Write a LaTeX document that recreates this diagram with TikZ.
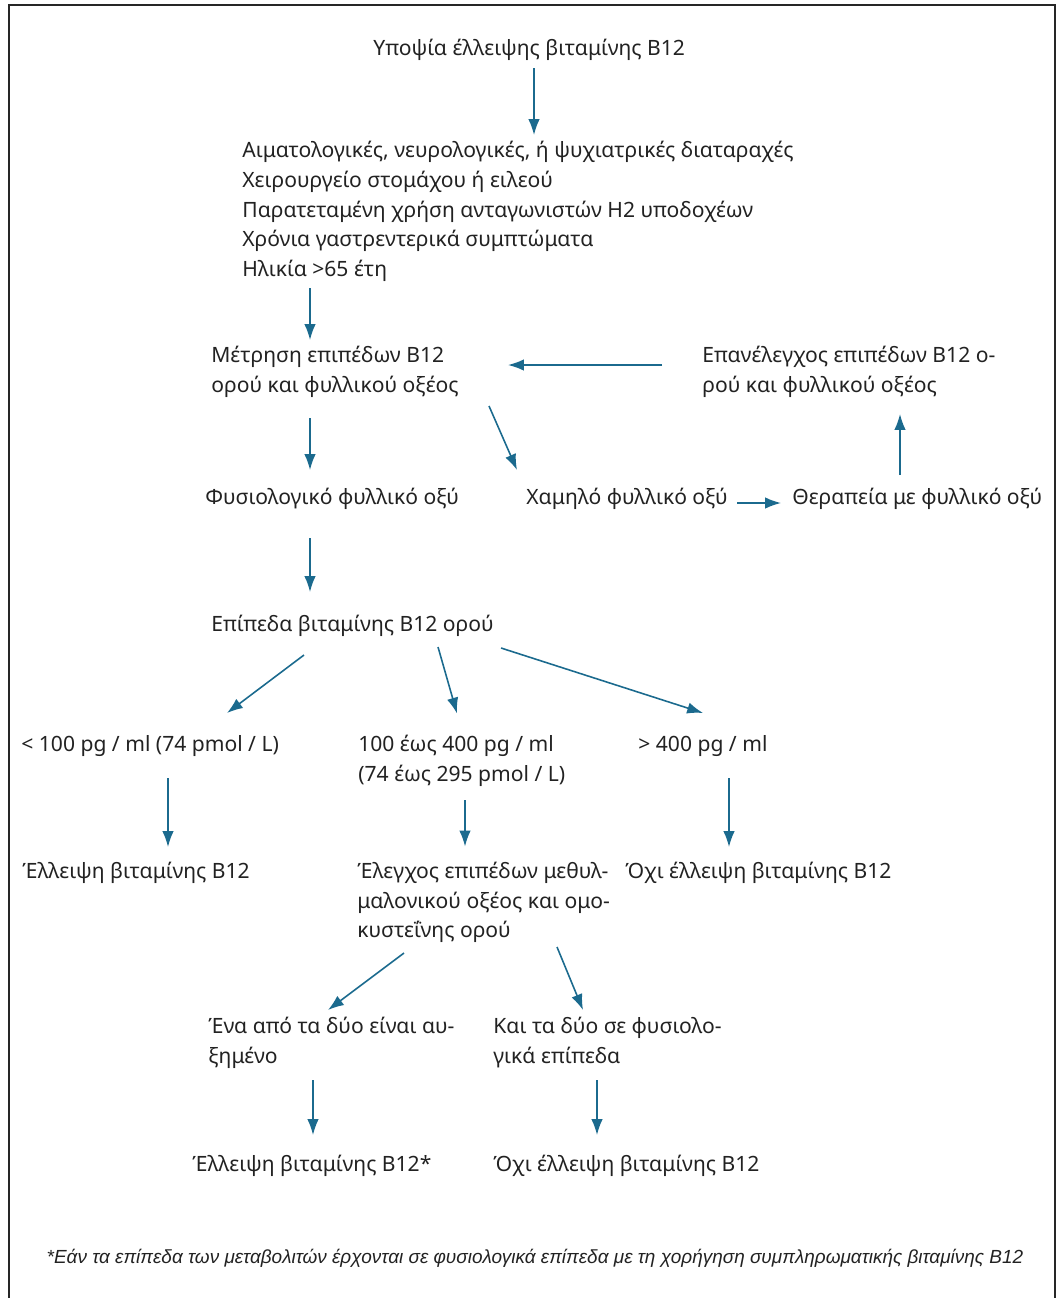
\documentclass[tikz,border=0pt]{standalone}
\usepackage{fontspec}
\usepackage{tikz}
\usepackage{xcolor}
\usetikzlibrary{calc,arrows.meta}
\setmainfont{Noto Sans}
\newfontfamily\notefont{Liberation Sans}
\definecolor{arrowblue}{HTML}{1B6A8E}
\definecolor{textgray}{HTML}{222222}
\tikzstyle{step box} = [anchor=west, inner sep=0pt, align=left, text=textgray,
  font=\fontsize{12}{16.9}\selectfont]
\tikzstyle{arr} = [draw=arrowblue, line width=0.9pt, -{Latex[length=9pt,width=6.5pt]}]

\begin{document}
\begin{tikzpicture}[x=0.02cm, y=-0.02cm]
\useasboundingbox (0,0) rectangle (1061,1298);
\draw[line width=1.4pt, draw=black!85] (9,1298) -- (9,5) -- (1055,5) -- (1055,1298);

			\tikzset{every node/.style={step box}}
\node (title) at (373,50) {Υποψία έλλειψης βιταμίνης B12};
\node (sym) at (242,211.5) {Αιματολογικές, νευρολογικές, ή ψυχιατρικές διαταραχές\\
  Χειρουργείο στομάχου ή ειλεού\\
  Παρατεταμένη χρήση ανταγωνιστών H2 υποδοχέων\\
  Χρόνια γαστρεντερικά συμπτώματα\\
  Ηλικία >65 έτη};
\node (meas) at (211,372) {Μέτρηση επιπέδων B12\\ ορού και φυλλικού οξέος};
\node (recheck) at (702,372) {Επανέλεγχος επιπέδων B12 ο-\\ ρού και φυλλικού οξέος};
\node (normal) at (205,499) {Φυσιολογικό φυλλικό οξύ};
\node (lowfol) at (526,499) {Χαμηλό φυλλικό οξύ};
\node (therapy) at (792,499) {Θεραπεία με φυλλικό οξύ};
\node (level) at (211,626) {Επίπεδα βιταμίνης B12 ορού};
\node (lowB) at (21,746) {< 100 pg / ml (74 pmol / L)};
\node (midB) at (358,760.5) {100 έως 400 pg / ml\\ (74 έως 295 pmol / L)};
\node (highB) at (638,746) {> 400 pg / ml};
\node (def1) at (22,873) {Έλλειψη βιταμίνης B12};
\node (mma) at (357,902.5) {Έλεγχος επιπέδων μεθυλ-\\ μαλονικού οξέος και ομο-\\ κυστεΐνης ορού};
\node (nodef1) at (625,873) {Όχι έλλειψη βιταμίνης B12};
\node (raised) at (208,1042.5) {Ένα από τα δύο είναι αυ-\\ ξημένο};
\node (normlev) at (493,1042.5) {Και τα δύο σε φυσιολο-\\ γικά επίπεδα};
\node (def2) at (192,1166) {Έλλειψη βιταμίνης B12*};
\node (nodef2) at (493,1166) {Όχι έλλειψη βιταμίνης B12};
\node[anchor=center, font=\notefont\itshape\fontsize{10.8}{12}\selectfont] (note) at (535,1258)
  {*Εάν τα επίπεδα των μεταβολιτών έρχονται σε φυσιολογικά επίπεδα με τη χορήγηση συμπληρωματικής βιταμίνης B12};

% arrows: from/offset/to/offset
\foreach \from/\fo/\to/\tof in {title/{161,18}/sym/{292,-76.5},
  sym/{68,76.5}/meas/{99,-32},
  recheck/{-40,-7}/meas/{297,-7},
  meas/{99,46}/normal/{105,-29},
  meas/{278,34}/lowfol/{-9,-29},
  lowfol/{211,4}/therapy/{-11,4},
  therapy/{108,-24}/recheck/{198,42},
  normal/{105,39}/level/{99,-34},
  level/{93,29}/lowB/{206,-33},
  level/{227,21}/midB/{99,-47},
  level/{290,22}/highB/{65,-33},
  lowB/{147,32}/def1/{146,-26},
  midB/{107,39.5}/mma/{108,-56},
  highB/{91,32}/nodef1/{104,-26},
  mma/{47,50.5}/raised/{120,-32.5},
  mma/{200,44.5}/normlev/{90,-32.5},
  raised/{105,37.5}/def2/{121,-31},
  normlev/{104,37.5}/nodef2/{104,-31}}
{
	\draw[arr] ($(\from.west)+(\fo)$) -- ($(\to.west)+(\tof)$);
}

		\end{tikzpicture}
\end{document}
